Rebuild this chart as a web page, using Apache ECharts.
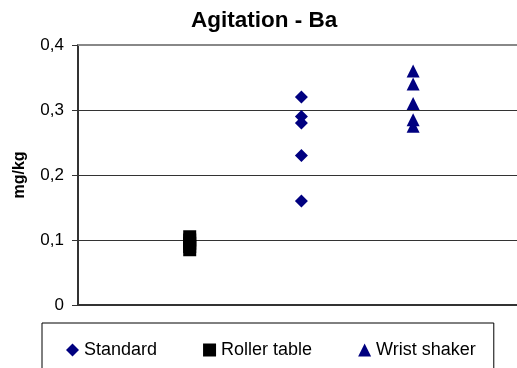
<!DOCTYPE html>
<html>
<head>
<meta charset="utf-8">
<script src="https://cdn.jsdelivr.net/npm/echarts@6/dist/echarts.min.js"></script>
<style>
  html, body { margin: 0; padding: 0; background: #fff; }
  #chart { width: 517px; height: 368px; }
</style>
</head>
<body>
<div id="chart"></div>
<script>
// agitation method names and their position on the (hidden) x axis
const methods = ['Standard', 'Roller table', 'Wrist shaker'];
const methodX = [2, 1, 3];

// Ba results, mg/kg
const standardValues = [0.32, 0.29, 0.28, 0.23, 0.16];
const rollerValues = [0.085, 0.09, 0.095, 0.10, 0.105];
const wristValues = [0.36, 0.34, 0.31, 0.285, 0.275];

const yTicks = [0, 0.1, 0.2, 0.3, 0.4];

const font = 'Liberation Sans, Arial, sans-serif';

function pts(i, vals) {
    return vals.map(function (v) { return [methodX[i], v]; });
}

let myChart = echarts.init(document.getElementById('chart'));
let option = {
    animation: false,
    title: {
        text: 'Agitation - Ba',
        left: 186,
        top: 4,
        textStyle: { fontFamily: font, fontSize: 22.5, fontWeight: 'bold', color: '#000' }
    },
    legend: {
        data: methods,
        orient: 'horizontal',
        left: 42,
        top: 323,
        padding: [18, 18, 18, 24],
        itemGap: 46,
        itemWidth: 13,
        itemHeight: 13,
        borderColor: '#000',
        borderWidth: 1,
        textStyle: { fontFamily: font, fontSize: 18, color: '#000' }
    },
    grid: { left: 78, right: 0, top: 45, bottom: 63 },
    xAxis: {
        type: 'value',
        min: 0,
        max: 3.93,
        axisLine: { show: true, lineStyle: { color: '#333', width: 2 } },
        axisTick: { show: false },
        axisLabel: { show: false },
        splitLine: { show: false }
    },
    yAxis: {
        type: 'value',
        min: yTicks[0],
        max: yTicks[yTicks.length - 1],
        interval: 0.1,
        name: 'mg/kg',
        nameLocation: 'middle',
        nameRotate: 90,
        nameGap: 50,
        nameTextStyle: { fontFamily: font, fontSize: 16, fontWeight: 'bold', color: '#000' },
        axisLine: { show: true, lineStyle: { color: '#333', width: 2 } },
        axisTick: { show: true, length: 6, lineStyle: { color: '#333' } },
        axisLabel: {
            margin: 14,
            fontFamily: font,
            fontSize: 17,
            color: '#000',
            formatter: function (v) { return v === 0 ? '0' : v.toFixed(1).replace('.', ','); }
        },
        splitLine: { show: true, lineStyle: { color: '#333', width: 1 } }
    },
    series: [
        {
            name: methods[0],
            type: 'scatter',
            symbol: 'diamond',
            symbolSize: 13,
            itemStyle: { color: '#000080', opacity: 1 },
            data: pts(0, standardValues),
            markLine: {
                silent: true,
                symbol: ['none', 'none'],
                label: { show: false },
                lineStyle: { color: '#888', width: 2, type: 'solid' },
                data: [{ yAxis: yTicks[yTicks.length - 1] }]
            }
        },
        {
            name: methods[1],
            type: 'scatter',
            symbol: 'rect',
            symbolSize: 13,
            itemStyle: { color: '#000', opacity: 1 },
            data: pts(1, rollerValues)
        },
        {
            name: methods[2],
            type: 'scatter',
            symbol: 'triangle',
            symbolSize: 13,
            itemStyle: { color: '#000080', opacity: 1 },
            data: pts(2, wristValues)
        }
    ]
};
myChart.setOption(option);
</script>
</body>
</html>
